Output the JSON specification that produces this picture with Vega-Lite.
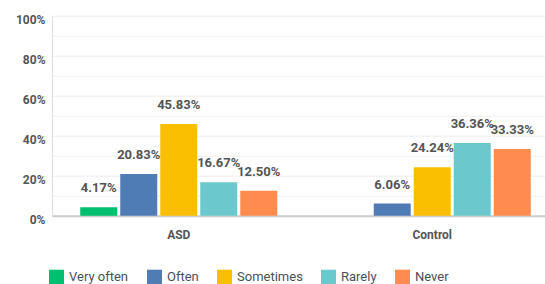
{
  "$schema": "https://vega.github.io/schema/vega-lite/v6.json",
  "width": 507,
  "height": 200,
  "autosize": "none",
  "padding": {"left": 52, "top": 15.7, "right": 0, "bottom": 68.3},
  "background": "white",
  "config": {"view": {"stroke": null}, "font": "Roboto"},
  "data": {
    "values": [
      {"group": "ASD", "response": "Very often", "value": 0.0417},
      {"group": "ASD", "response": "Often", "value": 0.2083},
      {"group": "ASD", "response": "Sometimes", "value": 0.4583},
      {"group": "ASD", "response": "Rarely", "value": 0.1667},
      {"group": "ASD", "response": "Never", "value": 0.125},
      {"group": "Control", "response": "Very often", "value": 0},
      {"group": "Control", "response": "Often", "value": 0.0606},
      {"group": "Control", "response": "Sometimes", "value": 0.2424},
      {"group": "Control", "response": "Rarely", "value": 0.3636},
      {"group": "Control", "response": "Never", "value": 0.3333}
    ]
  },
  "encoding": {
    "x": {
      "field": "group",
      "type": "nominal",
      "sort": ["ASD", "Control"],
      "scale": {"paddingInner": 0.211, "paddingOuter": 0.1055},
      "axis": {
        "title": null,
        "labelAngle": 0,
        "ticks": false,
        "domainColor": "#cccccc",
        "domainWidth": 2,
        "labelPadding": 14,
        "labelFontSize": 12,
        "labelFontWeight": "bold",
        "labelColor": "#555555"
      }
    },
    "xOffset": {
      "field": "response",
      "type": "nominal",
      "sort": ["Very often", "Often", "Sometimes", "Rarely", "Never"],
      "scale": {"paddingInner": 0.075, "paddingOuter": 0.0375}
    },
    "y": {
      "field": "value",
      "type": "quantitative",
      "scale": {"domain": [0, 1]},
      "axis": {
        "title": null,
        "values": [0, 0.1, 0.2, 0.3, 0.4, 0.5, 0.6, 0.7, 0.8, 0.9, 1],
        "format": ".0%",
        "labelExpr": "round(datum.value * 100) % 20 == 0 ? datum.label : ''",
        "ticks": false,
        "domainColor": "#dddddd",
        "gridColor": "#eeeeee",
        "labelPadding": 7,
        "labelOffset": 4,
        "labelFontSize": 12,
        "labelFontWeight": "bold",
        "labelColor": "#555555"
      }
    }
  },
  "layer": [
    {
      "mark": {"type": "bar"},
      "encoding": {
        "color": {
          "field": "response",
          "type": "nominal",
          "sort": ["Very often", "Often", "Sometimes", "Rarely", "Never"],
          "scale": {
            "domain": ["Very often", "Often", "Sometimes", "Rarely", "Never"],
            "range": ["#00bf6f", "#507cb6", "#f9be00", "#6bc8cd", "#ff8b4f"]
          },
          "legend": {
            "title": null,
            "orient": "none",
            "legendX": -3,
            "legendY": 254,
            "direction": "horizontal",
            "symbolType": "square",
            "symbolSize": 225,
            "symbolStrokeWidth": 0,
            "symbolOpacity": 1,
            "labelFontSize": 13,
            "labelColor": "#4a4f58",
            "labelOffset": 5,
            "columnPadding": 18
          }
        }
      }
    },
    {
      "transform": [{"filter": "datum.value > 0"}],
      "mark": {
        "type": "text",
        "baseline": "alphabetic",
        "dy": -15,
        "fontSize": 13,
        "fontWeight": "bold",
        "color": "#545454"
      },
      "encoding": {
        "text": {"field": "value", "type": "quantitative", "format": ".2%"}
      }
    }
  ]
}
